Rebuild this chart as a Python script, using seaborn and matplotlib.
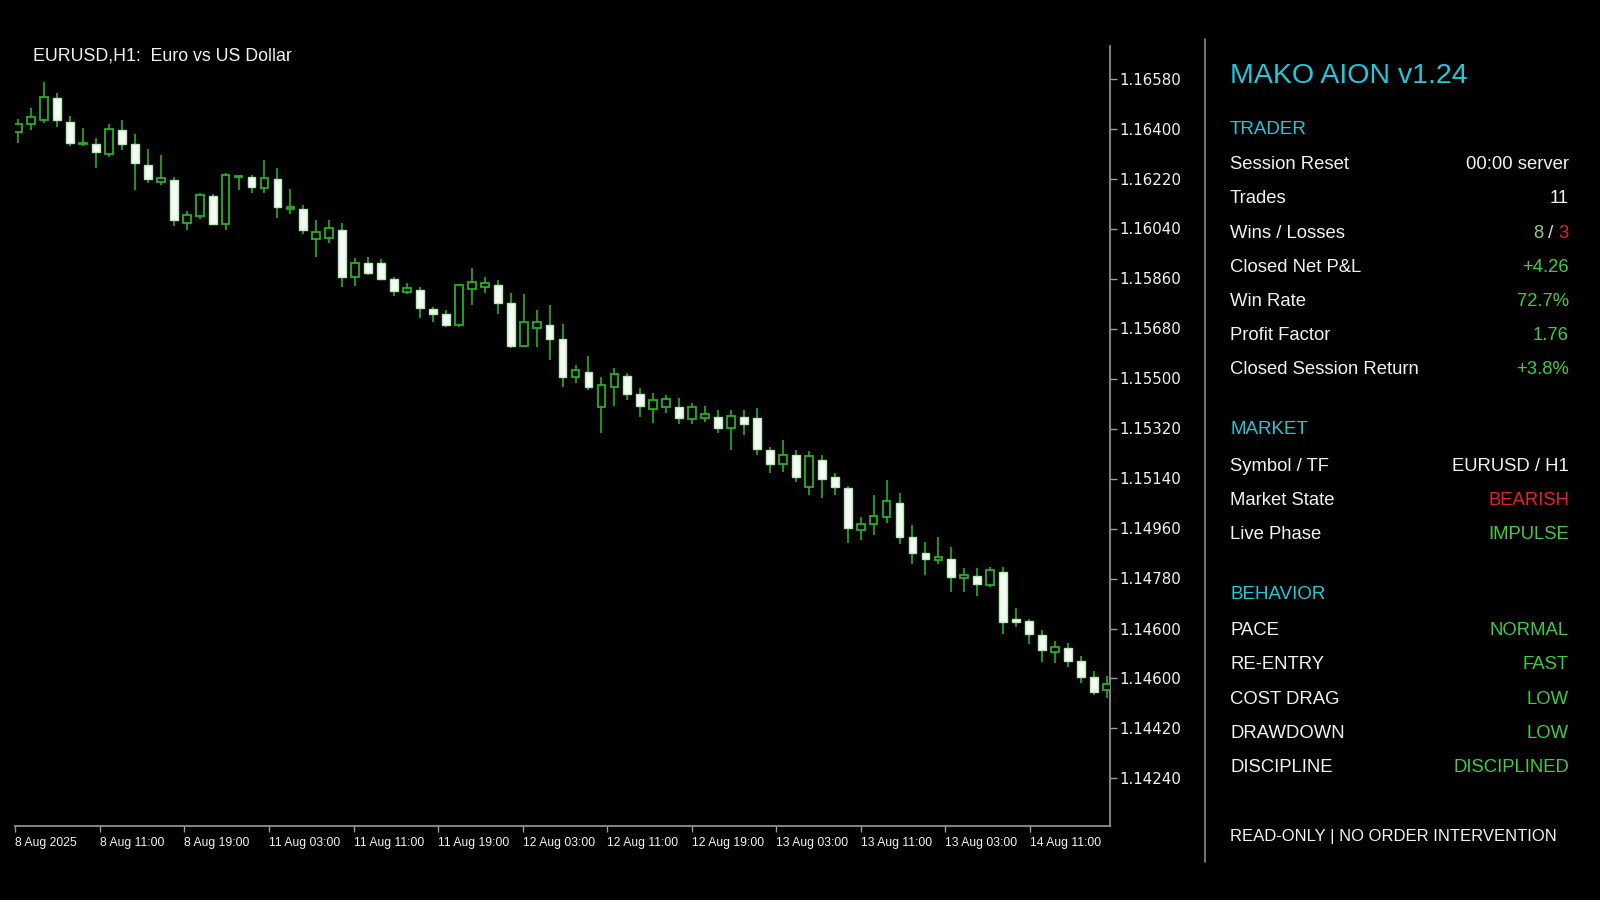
import numpy as np
import pandas as pd
import matplotlib
matplotlib.use("Agg")
import matplotlib.pyplot as plt
from matplotlib import font_manager
from matplotlib.lines import Line2D
import seaborn as sns

# ---- candle data (EURUSD H1) ----
opens = [1.16389, 1.16416, 1.16431, 1.16509, 1.16425, 1.16346, 1.16345, 1.16309, 1.16393, 1.16345,
         1.16269, 1.16209, 1.16213, 1.16061, 1.16085, 1.16157, 1.16056, 1.16224, 1.16227, 1.16185,
         1.16218, 1.16111, 1.16110, 1.16002, 1.16005, 1.16035, 1.15865, 1.15917, 1.15915, 1.15858,
         1.15813, 1.15819, 1.15751, 1.15733, 1.15691, 1.15822, 1.15831, 1.15837, 1.15771, 1.15617,
         1.15681, 1.15693, 1.15642, 1.15505, 1.15525, 1.15399, 1.15469, 1.15509, 1.15443, 1.15390,
         1.15399, 1.15397, 1.15354, 1.15357, 1.15363, 1.15321, 1.15361, 1.15359, 1.15243, 1.15193,
         1.15223, 1.15109, 1.15207, 1.15144, 1.15106, 1.14955, 1.14978, 1.15003, 1.15053, 1.14928,
         1.14870, 1.14846, 1.14849, 1.14781, 1.14789, 1.14756, 1.14805, 1.14634, 1.14628, 1.14577,
         1.14516, 1.14528, 1.14484, 1.14425, 1.14379]
highs = [1.16434, 1.16473, 1.16569, 1.16529, 1.16445, 1.16401, 1.16365, 1.16417, 1.16429, 1.16380,
         1.16326, 1.16305, 1.16227, 1.16103, 1.16167, 1.16165, 1.16239, 1.16231, 1.16232, 1.16287,
         1.16257, 1.16181, 1.16125, 1.16069, 1.16071, 1.16059, 1.15933, 1.15939, 1.15932, 1.15867,
         1.15843, 1.15829, 1.15759, 1.15747, 1.15841, 1.15897, 1.15867, 1.15853, 1.15807, 1.15805,
         1.15747, 1.15765, 1.15697, 1.15549, 1.15581, 1.15505, 1.15537, 1.15521, 1.15465, 1.15449,
         1.15441, 1.15431, 1.15411, 1.15401, 1.15385, 1.15387, 1.15385, 1.15393, 1.15255, 1.15279,
         1.15242, 1.15240, 1.15225, 1.15159, 1.15113, 1.15001, 1.15081, 1.15133, 1.15087, 1.14973,
         1.14913, 1.14929, 1.14893, 1.14817, 1.14819, 1.14821, 1.14821, 1.14673, 1.14634, 1.14595,
         1.14556, 1.14549, 1.14501, 1.14448, 1.14429]
lows = [1.16349, 1.16395, 1.16421, 1.16405, 1.16337, 1.16337, 1.16259, 1.16299, 1.16321, 1.16179,
        1.16205, 1.16197, 1.16049, 1.16033, 1.16074, 1.16053, 1.16035, 1.16179, 1.16167, 1.16167,
        1.16077, 1.16093, 1.16021, 1.15939, 1.15987, 1.15831, 1.15833, 1.15873, 1.15855, 1.15797,
        1.15804, 1.15717, 1.15705, 1.15687, 1.15687, 1.15765, 1.15807, 1.15733, 1.15609, 1.15612,
        1.15615, 1.15567, 1.15469, 1.15483, 1.15459, 1.15303, 1.15401, 1.15423, 1.15363, 1.15339,
        1.15377, 1.15337, 1.15337, 1.15345, 1.15303, 1.15243, 1.15297, 1.15225, 1.15159, 1.15165,
        1.15128, 1.15081, 1.15069, 1.15081, 1.14907, 1.14917, 1.14937, 1.14979, 1.14905, 1.14833,
        1.14793, 1.14833, 1.14733, 1.14733, 1.14717, 1.14749, 1.14581, 1.14605, 1.14545, 1.14481,
        1.14475, 1.14461, 1.14403, 1.14361, 1.14350]
closes = [1.16416, 1.16443, 1.16515, 1.16431, 1.16349, 1.16349, 1.16315, 1.16399, 1.16345, 1.16277,
          1.16218, 1.16221, 1.16071, 1.16087, 1.16159, 1.16057, 1.16232, 1.16229, 1.16191, 1.16221,
          1.16119, 1.16119, 1.16033, 1.16029, 1.16041, 1.15867, 1.15917, 1.15879, 1.15860, 1.15815,
          1.15825, 1.15753, 1.15732, 1.15693, 1.15837, 1.15849, 1.15845, 1.15771, 1.15617, 1.15703,
          1.15703, 1.15642, 1.15505, 1.15529, 1.15471, 1.15475, 1.15517, 1.15443, 1.15401, 1.15423,
          1.15427, 1.15357, 1.15397, 1.15373, 1.15323, 1.15365, 1.15336, 1.15246, 1.15193, 1.15225,
          1.15145, 1.15221, 1.15137, 1.15110, 1.14961, 1.14977, 1.15005, 1.15058, 1.14931, 1.14873,
          1.14850, 1.14859, 1.14787, 1.14793, 1.14761, 1.14811, 1.14625, 1.14625, 1.14580, 1.14523,
          1.14534, 1.14484, 1.14424, 1.14373, 1.14401]

ytick_values = [1.16580, 1.16400, 1.16220, 1.16040, 1.15860, 1.15680, 1.15500, 1.15320,
                1.15140, 1.14960, 1.14780, 1.14600, 1.14420, 1.14240, 1.14060]
ytick_labels = ["1.16580", "1.16400", "1.16220", "1.16040", "1.15860", "1.15680", "1.15500", "1.15320",
                "1.15140", "1.14960", "1.14780", "1.14600", "1.14600", "1.14420", "1.14240"]
xtick_labels = ["8 Aug 2025", "8 Aug 11:00", "8 Aug 19:00", "11 Aug 03:00", "11 Aug 11:00",
                "11 Aug 19:00", "12 Aug 03:00", "12 Aug 11:00", "12 Aug 19:00", "13 Aug 03:00",
                "13 Aug 11:00", "13 Aug 03:00", "14 Aug 11:00"]

chart_title = "EURUSD,H1:  Euro vs US Dollar"
panel_title = "MAKO AION v1.24"
trader_labels = ["Session Reset", "Trades", "Wins / Losses", "Closed Net P&L", "Win Rate",
                 "Profit Factor", "Closed Session Return"]
trader_values = ["00:00 server", "11", None, "+4.26", "72.7%", "1.76", "+3.8%"]
wins, losses = "8", "3"
market_labels = ["Symbol / TF", "Market State", "Live Phase"]
market_values = ["EURUSD / H1", "BEARISH", "IMPULSE"]
behavior_labels = ["PACE", "RE-ENTRY", "COST DRAG", "DRAWDOWN", "DISCIPLINE"]
behavior_values = ["NORMAL", "FAST", "LOW", "LOW", "DISCIPLINED"]
footer = "READ-ONLY | NO ORDER INTERVENTION"

# colours
GREEN_C = "#25b025"
WHITE = "#f2f2f2"
CYAN = "#20c8dc"
VGREEN = "#3fcc3f"
RED = "#e2222a"
AXIS = "#9a9a9a"
trader_colors = [WHITE, WHITE, None, VGREEN, VGREEN, VGREEN, VGREEN]
market_colors = [WHITE, RED, VGREEN]

df = pd.DataFrame({"open": opens, "high": highs, "low": lows, "close": closes})
df["x"] = np.arange(len(df))
df["bull"] = df["close"] >= df["open"]
df["bottom"] = df[["open", "close"]].min(axis=1)
df["height"] = (df["close"] - df["open"]).abs()

sns.set_theme(style="dark", rc={
    "figure.facecolor": "black",
    "axes.facecolor": "black",
    "axes.edgecolor": AXIS,
    "savefig.facecolor": "black",
    "text.color": WHITE,
})
plt.rcParams["font.family"] = ["DejaVu Sans"]
PANEL = ["Liberation Sans", "DejaVu Sans"]
installed = {f.name for f in font_manager.fontManager.ttflist}
TITLE_FONT = "Liberation Sans Narrow" if "Liberation Sans Narrow" in installed else "Liberation Sans"

W, H = 1600, 900
fig = plt.figure(figsize=(16, 9), dpi=100)
renderer = fig.canvas.get_renderer()


def fx(x):
    return x / W


def fy(y):
    return 1 - y / H


ax = fig.add_axes([fx(15), fy(826), fx(1110) - fx(15), fy(46) - fy(826)])
ax.set_facecolor("black")

# wicks then bodies
ax.vlines(df["x"], df["low"], df["high"], color=GREEN_C, linewidth=1.2, zorder=2)
bull = df[df["bull"]]
bear = df[~df["bull"]]
ax.bar(bull["x"], bull["height"], bottom=bull["bottom"], width=0.6,
       color="black", edgecolor=GREEN_C, linewidth=1.3, zorder=3)
ax.bar(bear["x"], bear["height"], bottom=bear["bottom"], width=0.6,
       color="#f4fbf4", edgecolor="#b8e8b8", linewidth=1.0, zorder=3)

ax.set_xlim(-0.25, 84.24)
ax.set_ylim(1.13889, 1.16697)
ax.grid(False)
sns.despine(ax=ax, left=True, top=True, right=False, bottom=False)
for s in ("right", "bottom"):
    ax.spines[s].set_color(AXIS)
    ax.spines[s].set_linewidth(1.2)

ax.yaxis.tick_right()
ax.set_yticks(ytick_values)
ax.set_yticklabels(ytick_labels)
ax.tick_params(axis="y", colors=AXIS, labelcolor=WHITE, length=5, width=1,
               pad=2, labelsize=10.8, right=True, left=False)

ax.set_xticks(np.linspace(-0.22, 78.06, len(xtick_labels)))
ax.set_xticklabels(xtick_labels, ha="left", family=PANEL, fontsize=8.7)
ax.tick_params(axis="x", colors=AXIS, labelcolor=WHITE, length=4, width=1,
               pad=4, bottom=True)

# chart title, sized to the width it has in the terminal, cap centre kept at y=54
t = fig.text(fx(33), fy(62.3), chart_title, family=[TITLE_FONT, "DejaVu Sans"], fontsize=15.5,
             color=WHITE, va="baseline", ha="left")
w = t.get_window_extent(renderer).width
if w > 262:
    fs = 15.5 * 258 / w
    t.set_fontsize(fs)
    t.set_y(fy(53.8 + fs * 100 / 72 * 0.716 / 2))

# side panel
fig.add_artist(Line2D([fx(1205), fx(1205)], [fy(39), fy(862)], color="#8a8a8a", linewidth=1.2))

LX, RX = 1230, 1569
ROW = 13.3
fig.text(fx(LX), fy(83.3), panel_title, family=PANEL, fontsize=20.5, color=CYAN, va="baseline")


def header(text, base):
    fig.text(fx(LX), fy(base), text, family=PANEL, fontsize=13.5, color=CYAN, va="baseline")


def row(label, value, color, base):
    fig.text(fx(LX), fy(base), label, family=PANEL, fontsize=ROW, color=WHITE, va="baseline")
    if value is not None:
        fig.text(fx(RX), fy(base), value, family=PANEL, fontsize=ROW, color=color,
                 va="baseline", ha="right")


header("TRADER", 134)
trader_base = [169.3, 203.3, 237.7, 272, 306, 340, 374]
for lab, val, col, b in zip(trader_labels, trader_values, trader_colors, trader_base):
    row(lab, val, col, b)

# wins / losses in mixed colours, laid out right to left
xr = RX
for part, col in [(losses, RED), (" / ", "#d8d8d8"), (wins, "#86cf86")]:
    tp = fig.text(fx(xr), fy(237.7), part, family=PANEL, fontsize=ROW, color=col,
                  va="baseline", ha="right")
    xr -= tp.get_window_extent(renderer).width

header("MARKET", 434)
for lab, val, col, b in zip(market_labels, market_values, market_colors, [470.7, 505, 539]):
    row(lab, val, col, b)

header("BEHAVIOR", 599)
for lab, val, b in zip(behavior_labels, behavior_values, [635, 669, 704, 738, 772]):
    row(lab, val, VGREEN, b)

fig.text(fx(LX), fy(841), footer, family=PANEL, fontsize=12, color=WHITE, va="baseline")

fig.savefig("out.png", dpi=100, facecolor="black")
